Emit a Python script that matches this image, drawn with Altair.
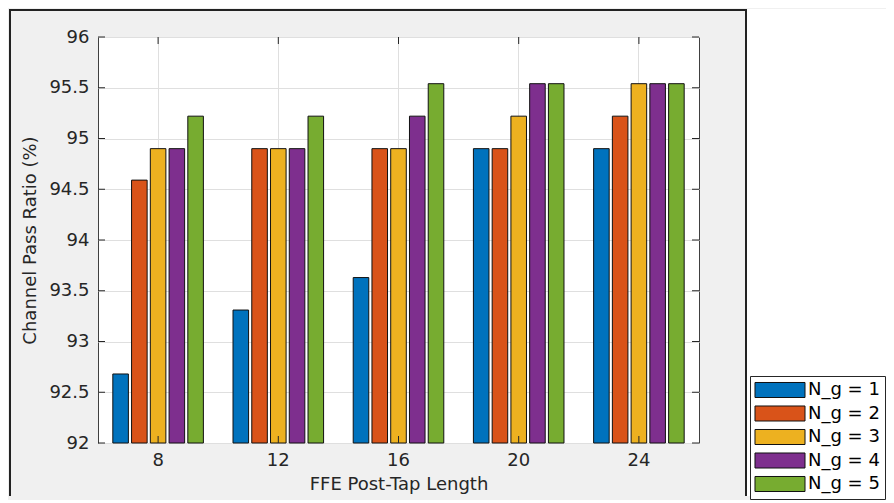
import altair as alt
import pandas as pd

cats = ["8", "12", "16", "20", "24"]
series = ["N_g = 1", "N_g = 2", "N_g = 3", "N_g = 4", "N_g = 5"]
ng1 = [92.68, 93.31, 93.63, 94.90, 94.90]
ng2 = [94.59, 94.90, 94.90, 94.90, 95.22]
ng3 = [94.90, 94.90, 94.90, 95.22, 95.54]
ng4 = [94.90, 94.90, 95.22, 95.54, 95.54]
ng5 = [95.22, 95.22, 95.54, 95.54, 95.54]
colors = ["#0072BD", "#D95319", "#EDB120", "#7E2F8E", "#77AC30"]
y_ticks = [92, 92.5, 93, 93.5, 94, 94.5, 95, 95.5, 96]

rows = []
for s, vals in zip(series, [ng1, ng2, ng3, ng4, ng5]):
    for c, v in zip(cats, vals):
        rows.append({"cat": c, "series": s, "value": v})
df = pd.DataFrame(rows)

W, H = 601, 406
FONT = "DejaVu Sans"
TXT = "#262626"

xscale = alt.Scale(domain=cats, paddingInner=0, paddingOuter=0)
yscale = alt.Scale(domain=[92, 96], zero=False, nice=False)
xaxis = alt.Axis(title="FFE Post-Tap Length", labelAngle=0, grid=True,
                 tickBand="center", labelPadding=8, titlePadding=6)
yaxis = alt.Axis(title="Channel Pass Ratio (%)", values=y_ticks, format="~g",
                 grid=True, labelPadding=9, titlePadding=9)

bars = alt.Chart(df).mark_bar(stroke="#111111", strokeWidth=1).encode(
    x=alt.X("cat:N", scale=xscale, sort=cats, axis=xaxis),
    xOffset=alt.XOffset("series:N", sort=series,
                        scale=alt.Scale(domain=series, paddingInner=0.17, paddingOuter=0.79)),
    y=alt.Y("value:Q", scale=yscale, axis=yaxis),
    y2=alt.datum(92),
    color=alt.Color("series:N", sort=series,
                    scale=alt.Scale(domain=series, range=colors),
                    legend=alt.Legend(
                        title=None, orient="none", legendX=652, legendY=339,
                        direction="vertical", fillColor="white", strokeColor="#262626",
                        padding=5, symbolType="M-3,-0.9L3,-0.9L3,0.9L-3,0.9Z",
                        symbolSize=278, symbolStrokeColor="#111111", symbolStrokeWidth=1,
                        symbolOffset=16, labelOffset=19, labelFont=FONT,
                        labelFontSize=18, labelColor="#000000", rowPadding=3.5,
                        symbolOpacity=1)),
)

tick_y = pd.DataFrame({"value": y_ticks})
tick_x = pd.DataFrame({"cat": cats})
tcol = "#262626"

left_ticks = alt.Chart(tick_y).mark_rule(color=tcol).encode(
    y=alt.Y("value:Q", scale=yscale, axis=yaxis), x=alt.value(0), x2=alt.value(7))
right_ticks = alt.Chart(tick_y).mark_rule(color=tcol).encode(
    y=alt.Y("value:Q", scale=yscale, axis=yaxis), x=alt.value(W - 7), x2=alt.value(W))
bottom_ticks = alt.Chart(tick_x).mark_rule(color=tcol).encode(
    x=alt.X("cat:N", scale=xscale, sort=cats, axis=xaxis), y=alt.value(H - 7), y2=alt.value(H))
top_ticks = alt.Chart(tick_x).mark_rule(color=tcol).encode(
    x=alt.X("cat:N", scale=xscale, sort=cats, axis=xaxis), y=alt.value(0), y2=alt.value(7))

one = pd.DataFrame({"d": [0]})
strip = alt.Chart(one).mark_rect(color="white").encode(
    x=alt.value(648), x2=alt.value(788), y=alt.value(-28), y2=alt.value(459))
bcol = "#222222"
b_left = alt.Chart(one).mark_rule(color=bcol, strokeWidth=2).encode(
    x=alt.value(-88), y=alt.value(-28), y2=alt.value(459))
b_top = alt.Chart(one).mark_rule(color=bcol, strokeWidth=2).encode(
    y=alt.value(-27), x=alt.value(-89), x2=alt.value(649))
b_right = alt.Chart(one).mark_rule(color=bcol, strokeWidth=2).encode(
    x=alt.value(648), y=alt.value(-28), y2=alt.value(459))

chart = alt.layer(
    strip, b_left, b_top, b_right, bars, left_ticks, right_ticks, bottom_ticks, top_ticks
).properties(
    width=W, height=H, padding=0, background="#f0f0f0"
).configure_view(
    stroke="#404040", strokeWidth=1, fill="white"
).configure_axis(
    labelFont=FONT, labelFontSize=18, labelColor=TXT,
    titleFont=FONT, titleFontSize=18, titleFontWeight="normal", titleColor=TXT,
    ticks=False, domain=False, gridColor="#dfdfdf", gridWidth=1,
)

chart.save("out.html", embed_options={"renderer": "svg", "actions": False})
